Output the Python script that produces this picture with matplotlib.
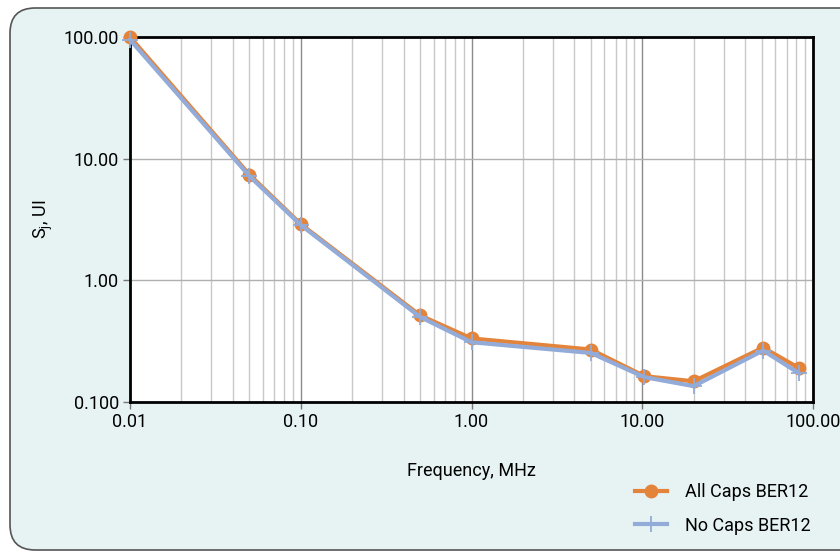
import numpy as np
import matplotlib
matplotlib.use("Agg")
import matplotlib.pyplot as plt
from matplotlib.patches import FancyBboxPatch
from matplotlib.ticker import FixedLocator, NullFormatter, LogLocator

plt.rcParams['font.family'] = ['Liberation Sans Narrow', 'Roboto', 'DejaVu Sans']

freq = [0.01, 0.05, 0.1, 0.5, 1.0, 5.0, 10.3, 20.0, 51.0, 83.0]
all_caps = [100.0, 7.4, 2.9, 0.515, 0.333, 0.27, 0.163, 0.148, 0.28, 0.19]
no_caps = [95.0, 7.2, 2.85, 0.50, 0.31, 0.253, 0.16, 0.135, 0.265, 0.172]

x_ticks = [0.01, 0.1, 1, 10, 100]
x_labels = ["0.01", "0.10", "1.00", "10.00", "100.00"]
y_ticks = [0.1, 1, 10, 100]
y_labels = ["0.100", "1.00", "10.00", "100.00"]

bg = '#E7F3F3'
orange = '#E4843A'
blue = '#92ABD8'

fig = plt.figure(figsize=(8.4, 5.52), dpi=100)
fig.patch.set_facecolor('white')
# panel runs off the right edge, as in the original
frame = FancyBboxPatch((10 / 840, 2 / 552), 860 / 840, 542 / 552,
                       boxstyle="round,pad=0,rounding_size=0.03",
                       transform=fig.transFigure, facecolor=bg,
                       edgecolor='#555555', linewidth=1.2, mutation_aspect=840 / 552,
                       zorder=-10)
fig.add_artist(frame)

ax = fig.add_axes([130 / 840, 1 - 402 / 552, 683 / 840, 365 / 552])
ax.set_facecolor('white')
ax.set_xscale('log')
ax.set_yscale('log')
ax.set_xlim(0.01, 100)
ax.set_ylim(0.1, 100)

ax.xaxis.set_major_locator(FixedLocator(x_ticks))
ax.set_xticklabels(x_labels)
ax.xaxis.set_minor_locator(LogLocator(base=10, subs=np.arange(2, 10)))
ax.xaxis.set_minor_formatter(NullFormatter())
ax.yaxis.set_major_locator(FixedLocator(y_ticks))
ax.set_yticklabels(y_labels)
ax.yaxis.set_minor_locator(FixedLocator([]))

ax.grid(True, axis='x', which='major', color='#8a8a8a', linewidth=1.0)
ax.grid(True, axis='x', which='minor', color='#c8c8c8', linewidth=1.0)
ax.grid(True, axis='y', which='major', color='#b0b0b0', linewidth=1.0)
ax.set_axisbelow(True)

ax.tick_params(axis='both', which='major', length=5, width=1, color='#777777',
               labelsize=13, direction='out', pad=3)
ax.tick_params(axis='x', which='minor', length=0)
for s in ax.spines.values():
    s.set_linewidth(2)
    s.set_color('black')

ax.plot(freq, all_caps, color=orange, linewidth=3, marker='o', markersize=9,
        label='All Caps BER12', clip_on=False, zorder=3)
ax.plot(freq, no_caps, color=blue, linewidth=3, marker='+', markersize=11,
        markeredgewidth=1.3, label='No Caps BER12', clip_on=False, zorder=4)

ax.set_xlabel('Frequency, MHz', fontsize=13, labelpad=22)
ax.set_ylabel('S$_\\mathregular{j}$, UI', fontsize=13, labelpad=6)

ax.legend(loc='lower right', bbox_to_anchor=(818 / 840, 1 - 542 / 552),
          bbox_transform=fig.transFigure, frameon=False, fontsize=13,
          handlelength=1.8, labelspacing=0.85, handletextpad=1.0, borderaxespad=0)

fig.savefig('out.png', dpi=100, facecolor=fig.get_facecolor())
